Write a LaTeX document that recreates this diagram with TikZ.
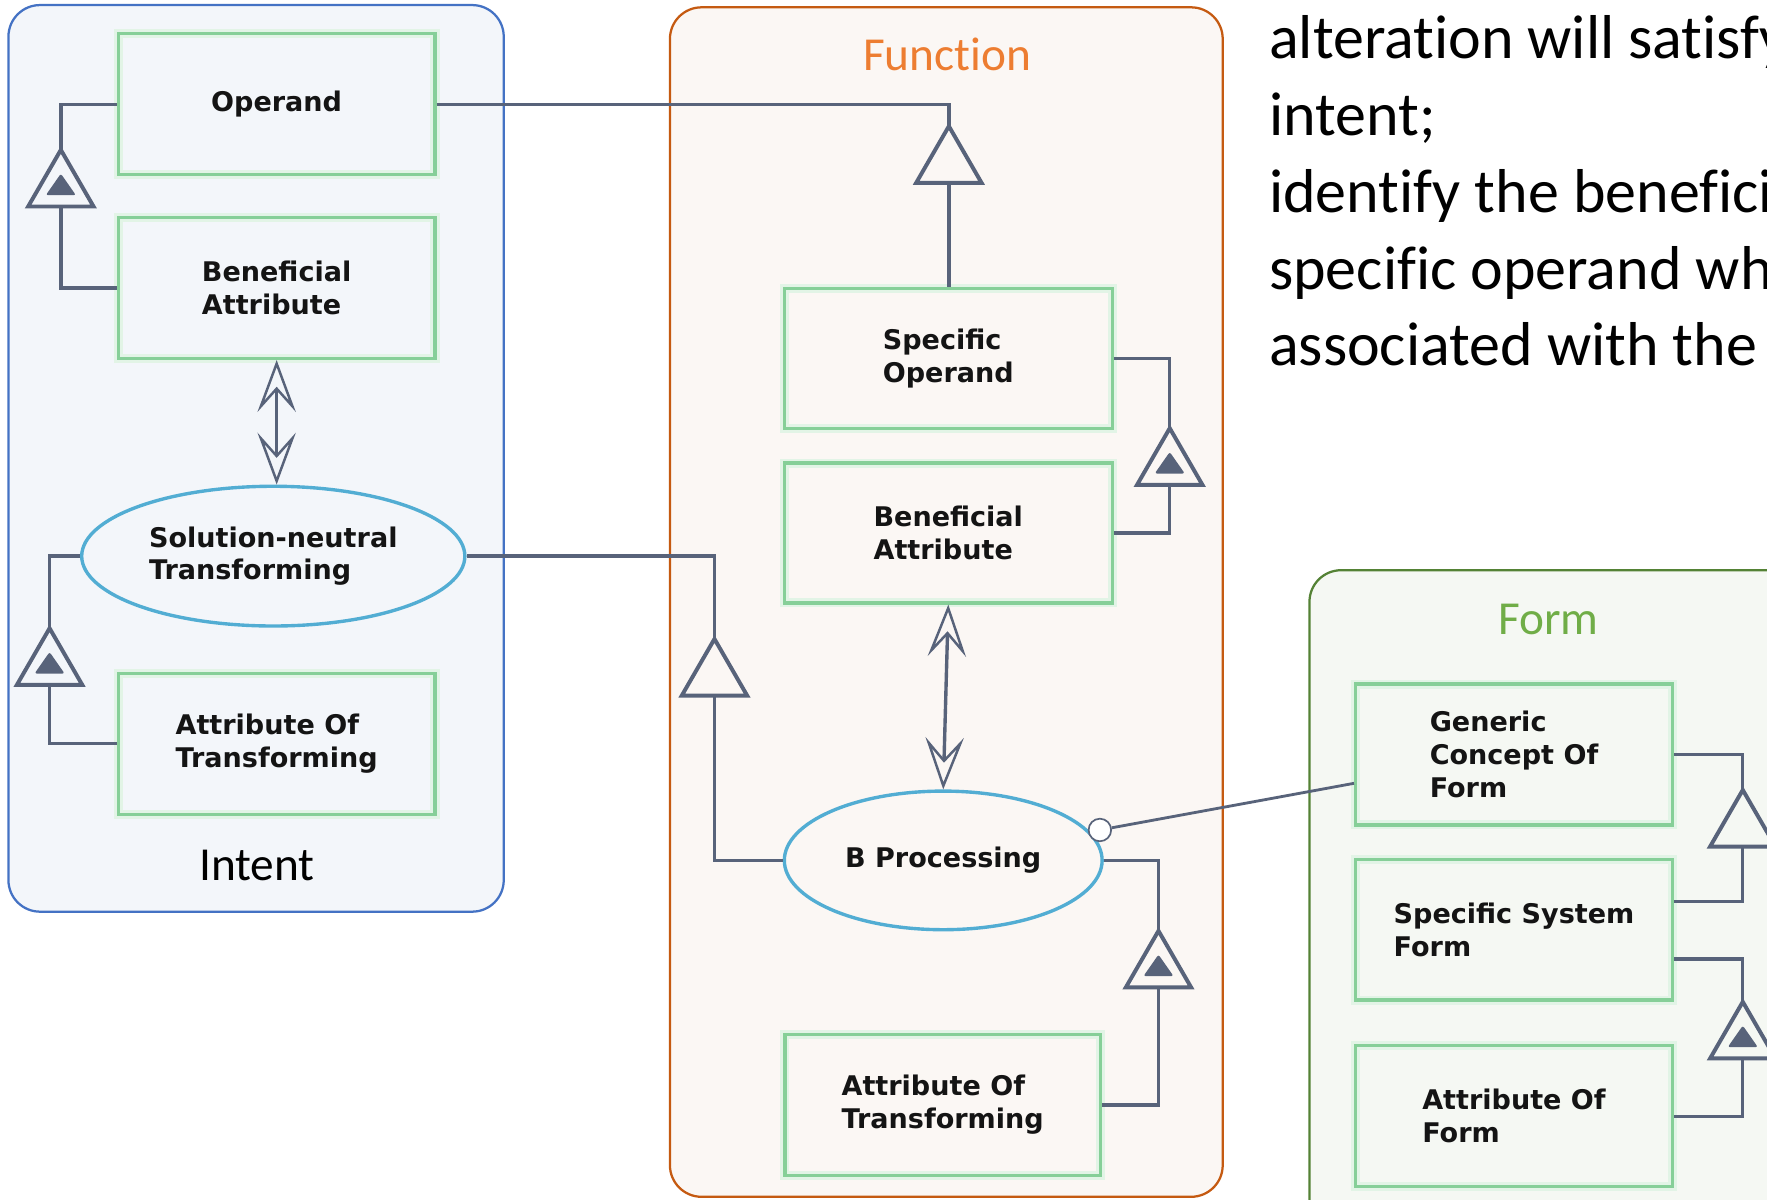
\documentclass[tikz,border=0pt]{standalone}
\usepackage{fontspec}
\setmainfont{Carlito}[Ligatures=NoCommon]
\newfontfamily\boxfont{DejaVu Sans}
\usetikzlibrary{shapes.geometric,arrows.meta,calc}

\definecolor{intentc}{HTML}{4472C4}
\definecolor{intentbg}{HTML}{F3F6FA}
\definecolor{fnc}{HTML}{C55A11}
\definecolor{fnbg}{HTML}{FBF7F4}
\definecolor{formc}{HTML}{548235}
\definecolor{formbg}{HTML}{F5F8F3}
\definecolor{boxg}{HTML}{86CF98}
\definecolor{glowg}{HTML}{E2F4E6}
\definecolor{ellc}{HTML}{52ADD3}
\definecolor{linkc}{HTML}{58637A}
\definecolor{inkc}{HTML}{141414}
\definecolor{fntext}{HTML}{ED7D31}
\definecolor{formtext}{HTML}{70AD47}

\newcommand\boxtext{\boxfont\bfseries\fontsize{24}{29}\selectfont}
\newcommand\grouptext{\fontsize{42}{50}\selectfont}
\newcommand\notetext{\fontsize{55}{67}\selectfont}

\tikzset{
  conn/.style={draw=linkc, line width=3pt},
  thing/.style={rectangle, draw=boxg, line width=3pt,
    preaction={draw=glowg, line width=8pt},
    minimum width=281pt, minimum height=125pt, inner sep=0pt,
    font=\boxtext, align=left, text=inkc},
  proc/.style={ellipse, draw=ellc, line width=3pt, inner sep=0pt,
    font=\boxtext, align=left, text=inkc},
  gentri/.style={regular polygon, regular polygon sides=3, draw=linkc,
    line width=3.5pt, minimum size=67pt, inner sep=0pt, outer sep=0pt},
  exhtri/.style={gentri, path picture={
    \coordinate (pl) at ($(path picture bounding box.south west)!.2!(path picture bounding box.north west)$);
    \coordinate (pr) at ($(path picture bounding box.south east)!.2!(path picture bounding box.north east)$);
    \fill[linkc, rounded corners=2pt] ($(pl)!.27!(pr)$) -- ($(pl)!.73!(pr)$)
      -- ($(path picture bounding box.south)!.58!(path picture bounding box.north)$) -- cycle;}},
  twoway/.style={draw=linkc, line width=3pt,
    {Stealth[open, length=46pt, width=34pt, inset=19pt, line width=2.2pt]}-{Stealth[open, length=46pt, width=34pt, inset=19pt, line width=2.2pt]}},
  group/.style={font=\grouptext, anchor=base, inner sep=0pt},
  note/.style={font=\notetext, anchor=base west, inner sep=0pt, text=black},
}

\begin{document}
\begin{tikzpicture}[x=1pt, y=-1pt]
\useasboundingbox (0,0) rectangle (1568,1064);
\clip (0,0) rectangle (1568,1064);
\fill[white] (0,0) rectangle (1568,1064);

% containers
\draw[rounded corners=28pt, draw=intentc, fill=intentbg, line width=2pt] (7.5,4.5) rectangle (447,809);
\draw[rounded corners=28pt, draw=fnc, fill=fnbg, line width=2pt] (594.5,6.5) rectangle (1085,1062);
\draw[rounded corners=28pt, draw=formc, fill=formbg, line width=2pt] (1162,506) rectangle (1640,1130);

\node[group, text=black] (intentlbl) at (228,781) {Intent};
\node[group, text=fntext] (fnlbl) at (840.5,63) {Function};
\node[group, text=formtext] (formlbl) at (1374,563) {Form};

% Intent
\node[thing] (op) at (245.5,92.5) {Operand};
\node[thing] (iba) at (245.5,255.5) {Beneficial\\Attribute};
\node[proc, minimum width=340pt, minimum height=124pt] (snt) at (242.5,493.5) {Solution-neutral\\Transforming};
\node[thing] (iat) at (245.5,660) {Attribute Of\\Transforming};

% Function
\node[thing, minimum width=291pt, minimum height=124pt] (so) at (841.5,318) {Specific\\Operand};
\node[thing, minimum width=291pt, minimum height=124pt] (fba) at (841.5,473) {Beneficial\\Attribute};
\node[proc, minimum width=282pt, minimum height=123pt] (bp) at (837,763.5) {B Processing};
\node[thing, minimum width=280pt] (fat) at (836.5,980.5) {Attribute Of\\Transforming};

% Form
\node[thing] (gcf) at (1343.5,669.5) {Generic\\Concept Of\\Form};
\node[thing] (ssf) at (1343.5,825) {Specific System\\Form};
\node[thing] (aof) at (1343.5,990.5) {Attribute Of\\Form};

% structural link symbols
\node[exhtri] (t1) at (54,166.5) {};
\node[exhtri] (t2) at (44,591) {};
\node[gentri] (t3) at (842,145.5) {};
\node[gentri] (t4) at (634,600.5) {};
\node[exhtri] (t5) at (1038,413.5) {};
\node[exhtri] (t6) at (1028,859.5) {};
\node[gentri] (t7) at (1546.5,734.5) {};
\node[exhtri] (t8) at (1546.5,922.5) {};

% links
\draw[conn] (op.west) -| (t1.north);
\draw[conn] (iba.west) -| (t1.south);
\draw[conn] (snt.west) -| (t2.north);
\draw[conn] (iat.west) -| (t2.south);
\draw[conn] (op.east) -| (t3.north);
\draw[conn] (t3.south) -- (t3.south |- so.north);
\draw[conn] (snt.east) -| (t4.north);
\draw[conn] (t4.south) |- (bp.west);
\draw[conn] (so.east) -| (t5.north);
\draw[conn] (fba.east) -| (t5.south);
\draw[conn] (bp.east) -| (t6.north);
\draw[conn] (fat.east) -| (t6.south);
\draw[conn] (gcf.east) -| (t7.north);
\draw[conn] ([yshift=25pt]ssf.east) -| (t7.south);
\draw[conn] ([yshift=-26pt]ssf.east) -| (t8.north);
\draw[conn] (aof.east) -| (t8.south);

% two-way effect links
\draw[twoway] (iba.south) -- (iba.south |- snt.north);
\draw[twoway] (fba.south) -- (bp.north);

% instrument link
\node[circle, draw=linkc, fill=white, line width=1.5pt, minimum size=20pt, inner sep=0pt] (pin) at (976,736.5) {};
\draw[conn, line width=2.5pt] (pin) -- ($(gcf.north west)!0.7!(gcf.south west)$);

% notes
\node[note] (n1) at (1126,52) {alteration will satisfy};
\node[note] (n2) at (1126,120) {intent;};
\node[note] (n3) at (1126,188.5) {identify the beneficial};
\node[note] (n4) at (1126,256.5) {specific operand which};
\node[note] (n5) at (1126,324) {associated with the};
\end{tikzpicture}
\end{document}
